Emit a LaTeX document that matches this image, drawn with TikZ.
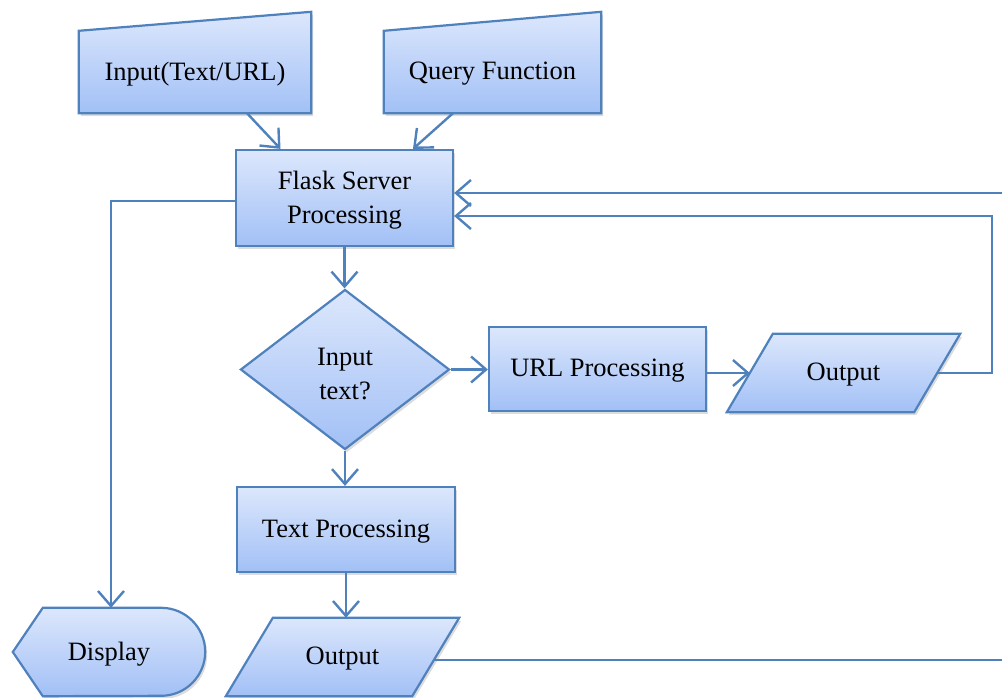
\documentclass[tikz,border=0pt]{standalone}
\usepackage{fontspec}
\setmainfont{Liberation Serif}
\usetikzlibrary{arrows.meta,calc,shadows,shapes.geometric,backgrounds}
\definecolor{edge}{HTML}{4F81BD}
\definecolor{filltop}{HTML}{DCE7FC}
\definecolor{fillbot}{HTML}{A2C0F6}
\begin{document}
\begin{tikzpicture}[x=1pt,y=-1pt,
  font=\fontsize{26.5}{34}\selectfont,
  shade/.style={draw=edge, line width=2.2pt, top color=filltop, bottom color=fillbot,
    drop shadow={shadow xshift=2pt,shadow yshift=-3pt,opacity=0.28}},
  box/.style={shade, rectangle, inner sep=0pt},
  holder/.style={inner sep=0pt},
  label/.style={inner sep=0pt, align=center},
  conn/.style={draw=edge, line width=2.4pt, -{Straight Barb[length=15pt,width=26pt]}}]
\useasboundingbox (0,0) rectangle (1002,698);

% outlines drawn as paths: geometry holders
\node[holder, minimum width=232pt, minimum height=82pt] (inp) at (195,72) {};
\node[holder, minimum width=217pt, minimum height=82pt] (qry) at (492.5,72) {};
\node[holder, minimum width=233pt, minimum height=78pt] (out1) at (843.5,373) {};
\node[holder, minimum width=233pt, minimum height=78pt] (out2) at (342.5,657) {};
\node[holder, minimum width=192pt, minimum height=88pt] (disp) at (109,652) {};

% boxes and the decision
\node[box, minimum width=217pt, minimum height=96pt] (flask) at (344.5,198) {};
\node[shade, diamond, aspect=1.3, inner sep=0pt, minimum width=209pt, minimum height=160pt] (dec) at (345,369.5) {};
\node[box, minimum width=217pt, minimum height=84pt] (url) at (597.5,369) {};
\node[box, minimum width=218pt, minimum height=85pt] (txt) at (346,529.5) {};

\begin{scope}[on background layer]
  % manual input shapes
  \path[shade] (inp.south west) -- (inp.north west) -- ($(inp.north east)+(0,-19)$) -- (inp.south east) -- cycle;
  \path[shade] (qry.south west) -- (qry.north west) -- ($(qry.north east)+(0,-19)$) -- (qry.south east) -- cycle;
  % data (parallelogram) shapes
  \path[shade] (out1.south west) -- ($(out1.north west)+(46,0)$) -- (out1.north east) -- ($(out1.south east)+(-46,0)$) -- cycle;
  \path[shade] (out2.south west) -- ($(out2.north west)+(47,0)$) -- (out2.north east) -- ($(out2.south east)+(-47,0)$) -- cycle;
  % display shape
  \path[shade] (disp.west) -- ($(disp.north west)+(30,0)$) -- ($(disp.north east)+(-44,0)$)
     arc[start angle=-90, end angle=90, radius=44] -- ($(disp.south west)+(30,0)$) -- cycle;
\end{scope}

% texts
\node[label] (inp-t)   at ($(inp)+(0,2)$)   {Input(Text/URL)};
\node[label] (qry-t)   at ($(qry)+(0,2)$)   {Query Function};
\node[label] (flask-t) at ($(flask)+(0,2)$) {Flask Server\\Processing};
\node[label] (dec-t)   at ($(dec)+(0,4.5)$) {Input\\text?};
\node[label] (url-t)   at ($(url)+(0,2)$)   {URL Processing};
\node[label] (out1-t)  at ($(out1)+(0,2)$)  {Output};
\node[label] (txt-t)   at ($(txt)+(0,2)$)   {Text Processing};
\node[label] (out2-t)  at ($(out2)+(0,2)$)  {Output};
\node[label] (disp-t)  at ($(disp)+(0,2)$)  {Display};

% connection points
\coordinate (inpout) at ($(inp.south)+(52,0)$);
\coordinate (qryout) at ($(qry.south)+(-39.5,0)$);
\coordinate (flin1) at ($(flask.north)+(-64,0)$);
\coordinate (flin2) at ($(flask.north)+(68.5,0)$);
\coordinate (o1l) at ($(out1.west)+(23,0)$);
\coordinate (o1r) at ($(out1.east)+(-23,0)$);
\coordinate (o2r) at ($(out2.east)+(-25.3,3)$);
\coordinate (flw) at ($(flask.west)+(0,3)$);
\coordinate (dtop) at ($(disp.north)+(2,0)$);
\coordinate (ret1) at (992,216);
\coordinate (ret2) at (1014,193);

% connectors
\draw[conn] (inpout) -- (flin1);
\draw[conn] (qryout) -- (flin2);
\draw[conn] (flask.south) -- (flask.south |- dec.north);
\draw[conn] (dec.east) -- (dec.east -| url.west);
\draw[conn] (dec.south) -- (dec.south |- txt.north);
\draw[conn] (url.east |- o1l) -- (o1l);
\draw[conn] (txt.south) -- (txt.south |- out2.north);
\draw[conn] (o1r) -| (ret1) -- (flask.east |- ret1);
\draw[conn] (o2r) -| (ret2) -- (flask.east |- ret2);
\draw[conn] (flw) -| (dtop);
\end{tikzpicture}
\end{document}
